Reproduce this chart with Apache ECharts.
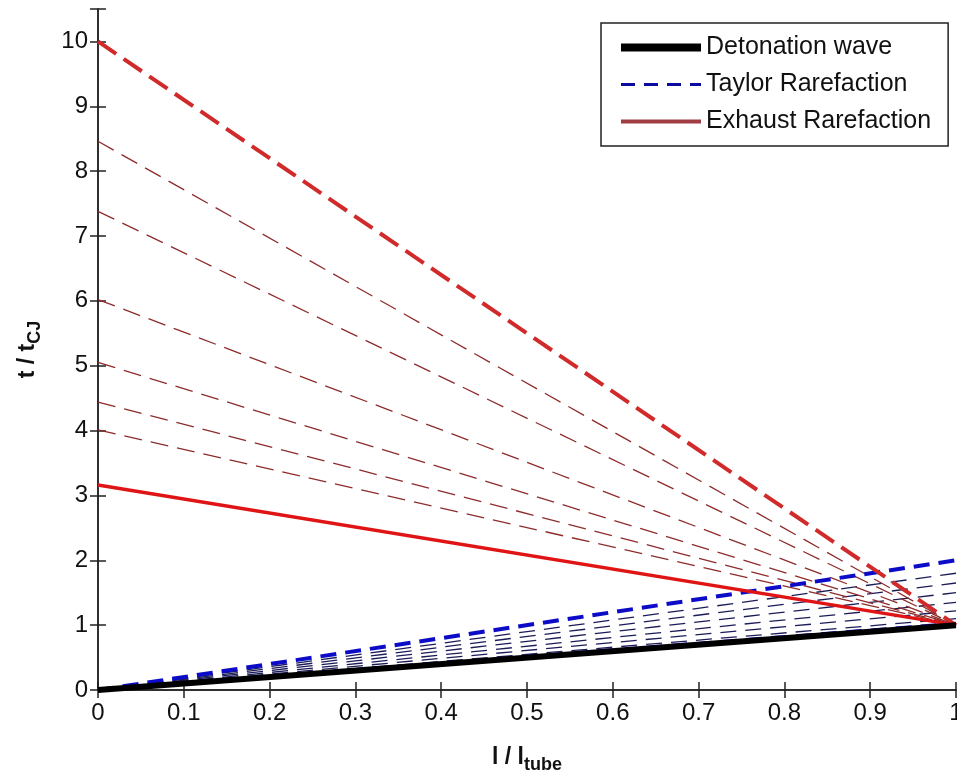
<!DOCTYPE html>
<html>
<head>
<meta charset="utf-8">
<script src="https://cdn.jsdelivr.net/npm/echarts@6/dist/echarts.min.js"></script>
<style>
  html, body { margin: 0; padding: 0; background: #fff; }
  #chart { width: 957px; height: 771px; }
</style>
</head>
<body>
<div id="chart"></div>
<script>
// tube end point where every line meets
const endX = 1
const detonationEnd = 1
// Taylor rarefaction: t at l = 1 for each fan line (first and last are drawn thick)
const taylorEnds = [2.0, 1.8, 1.65, 1.5, 1.35, 1.22, 1.1, 1.02]
// Exhaust rarefaction: t at l = 0 for each dashed line (first is thick)
const exhaustStarts = [10, 8.46, 7.38, 6.02, 5.05, 4.44, 4.01]
// solid exhaust line
const exhaustSolidStart = 3.16
const exhaustEnd = 1.0
const xTicks = [0, 0.1, 0.2, 0.3, 0.4, 0.5, 0.6, 0.7, 0.8, 0.9, 1]

let chart = echarts.init(document.getElementById('chart'))
const font = 'Liberation Sans, Arial, sans-serif'

let series = []

// taylor fan
taylorEnds.forEach((v, i) => {
  let thick = (i === 0 || i === taylorEnds.length - 1)
  series.push({
    name: i === 0 ? 'Taylor Rarefaction' : 'taylor' + i,
    type: 'line',
    symbol: 'none',
    z: thick ? 4 : 2,
    data: [[0, 0], [endX, v]],
    lineStyle: thick
      ? { color: '#0b0bc8', width: 4, type: [16, 9] }
      : { color: '#1c1c58', width: 1.3, type: [16, 9] }
  })
})

// exhaust dashed lines
exhaustStarts.forEach((v, i) => {
  let thick = i === 0
  series.push({
    name: 'exhaust' + i,
    type: 'line',
    symbol: 'none',
    z: thick ? 4 : 2,
    data: [[0, v], [endX, exhaustEnd]],
    lineStyle: thick
      ? { color: '#d02a2a', width: 4, type: [22, 9] }
      : { color: '#8e2c2c', width: 1.3, type: [18, 9] }
  })
})

series.push({
  name: 'Exhaust Rarefaction',
  type: 'line',
  symbol: 'none',
  z: 5,
  data: [[0, exhaustSolidStart], [endX, exhaustEnd]],
  lineStyle: { color: '#e01414', width: 3.5 }
})

series.push({
  name: 'Detonation wave',
  type: 'line',
  symbol: 'none',
  z: 6,
  data: [[0, 0], [endX, detonationEnd]],
  lineStyle: { color: '#000', width: 6 }
})

const axisLine = { show: true, lineStyle: { color: '#222', width: 1.5 } }
const axisTick = { show: true, inside: true, length: 8, lineStyle: { color: '#222', width: 1.5 } }

chart.setOption({
  animation: false,
  backgroundColor: '#fff',
  textStyle: { fontFamily: font },
  grid: { left: 98, right: 1, top: 9, bottom: 81, outerBoundsMode: 'none' },
  legend: {
    orient: 'vertical',
    left: 601,
    top: 23,
    backgroundColor: '#fff',
    borderColor: '#222',
    borderWidth: 1.5,
    padding: [12, 17, 12, 16],
    itemWidth: 80,
    itemHeight: 14,
    itemGap: 12,
    selectedMode: false,
    textStyle: { fontFamily: font, fontSize: 25, color: '#111' },
    data: [
      { name: 'Detonation wave', itemStyle: { opacity: 0 }, lineStyle: { color: '#000', width: 8 } },
      { name: 'Taylor Rarefaction', itemStyle: { opacity: 0 }, lineStyle: { color: '#0b0ba0', width: 3, type: [14, 9] } },
      { name: 'Exhaust Rarefaction', itemStyle: { opacity: 0 }, lineStyle: { color: '#a03c44', width: 4 } }
    ]
  },
  xAxis: [
    {
      type: 'value', min: 0, max: 1, interval: 0.1,
      name: '{a|l / l}{s|tube}',
      nameLocation: 'middle',
      nameGap: 56,
      nameTextStyle: {
        rich: {
          a: { fontSize: 23, fontWeight: 'bold', color: '#111', fontFamily: font, verticalAlign: 'top' },
          s: { fontSize: 18, fontWeight: 'bold', color: '#111', fontFamily: font, verticalAlign: 'top', padding: [10, 0, 0, 0] }
        }
      },
      axisLine: axisLine,
      axisTick: axisTick,
      splitLine: { show: false },
      axisLabel: {
        fontSize: 24, color: '#111', margin: 11,
        formatter: v => xTicks.includes(Math.round(v * 10) / 10) ? String(Math.round(v * 10) / 10) : ''
      }
    },
    {
      type: 'value', min: 0, max: 1, interval: 0.1, position: 'top',
      axisLine: axisLine, axisTick: axisTick, axisLabel: { show: false }, splitLine: { show: false }
    }
  ],
  yAxis: [
    {
      type: 'value', min: 0, max: 10.5, interval: 1,
      name: '{a|t / t}{s|CJ}',
      nameLocation: 'middle',
      nameGap: 54,
      nameTextStyle: {
        rich: {
          a: { fontSize: 23, fontWeight: 'bold', color: '#111', fontFamily: font, verticalAlign: 'top' },
          s: { fontSize: 18, fontWeight: 'bold', color: '#111', fontFamily: font, verticalAlign: 'top', padding: [10, 0, 0, 0] }
        }
      },
      axisLine: axisLine,
      axisTick: axisTick,
      splitLine: { show: false },
      axisLabel: {
        fontSize: 24, color: '#111', margin: 10,
        formatter: v => Number.isInteger(v) ? String(v) : ''
      }
    },
    {
      type: 'value', min: 0, max: 10.5, interval: 1, position: 'right',
      axisLine: axisLine, axisTick: axisTick, axisLabel: { show: false }, splitLine: { show: false }
    }
  ],
  series: series
})
</script>
</body>
</html>
